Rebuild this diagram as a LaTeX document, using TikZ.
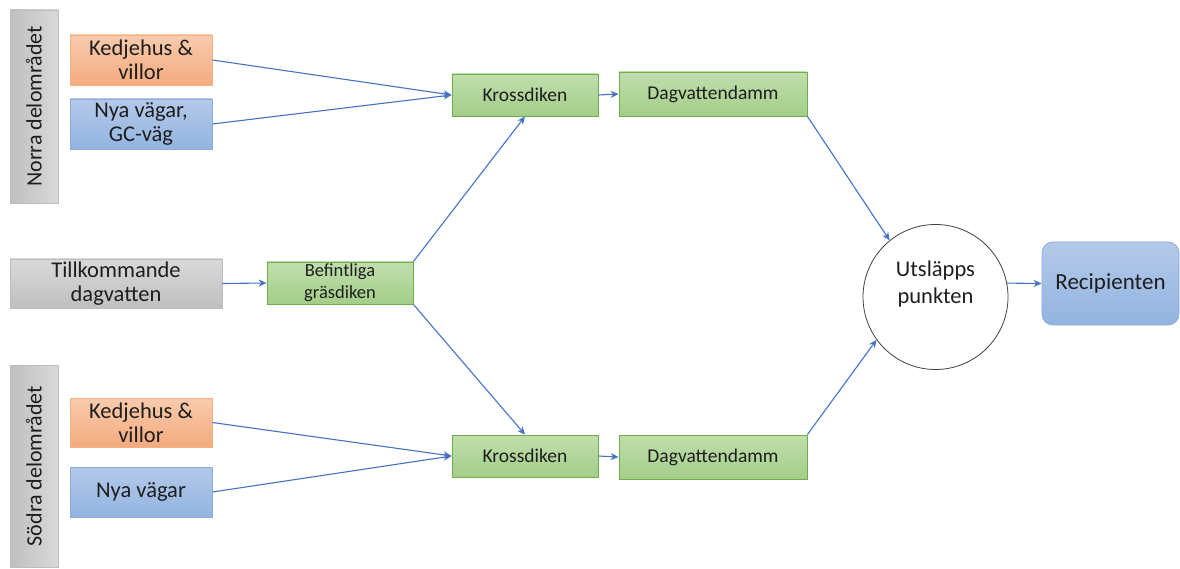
\documentclass[tikz,border=0pt]{standalone}
\usepackage{fontspec}
\setmainfont{Carlito}
\usetikzlibrary{arrows.meta}
\definecolor{arrowblue}{HTML}{4472C4}
\definecolor{txt}{HTML}{1E1E1E}
\definecolor{grayT}{HTML}{D9D9D9}
\definecolor{grayB}{HTML}{BFBFBF}
\definecolor{grayL}{HTML}{BDBDBD}
\definecolor{orangeT}{HTML}{F8CBAD}
\definecolor{orangeB}{HTML}{F4AB7E}
\definecolor{orangeL}{HTML}{F4B183}
\definecolor{blueT}{HTML}{B4C9E9}
\definecolor{blueB}{HTML}{92B4E0}
\definecolor{blueL}{HTML}{8FAADC}
\definecolor{greenT}{HTML}{C0DEAD}
\definecolor{greenB}{HTML}{A3CE88}
\definecolor{greenL}{HTML}{70AD47}
\tikzset{
  box/.style={draw, line width=0.8pt, text=txt, align=center, inner sep=2pt},
  graybox/.style={box, draw=grayL, top color=grayT, bottom color=grayB},
  orangebox/.style={box, draw=orangeL, top color=orangeT, bottom color=orangeB},
  bluebox/.style={box, draw=blueL, top color=blueT, bottom color=blueB},
  greenbox/.style={box, draw=greenL, top color=greenT, bottom color=greenB},
  flow/.style={-{Stealth[length=8pt,width=7pt]}, draw=arrowblue, line width=1.1pt}
}
\begin{document}
\begin{tikzpicture}[x=1pt,y=-1pt]
  \useasboundingbox (0,0) rectangle (1180,569);
  % areas
  \node[box, draw=grayL, left color=grayB, right color=grayT, rotate=90, minimum width=193, minimum height=48, font=\fontsize{22}{24}\selectfont] (norra) at (34,106.5) {Norra delområdet};
  \node[box, draw=grayL, left color=grayB, right color=grayT, rotate=90, minimum width=202, minimum height=48, font=\fontsize{22}{24}\selectfont] (sodra) at (34,466) {Södra delområdet};
  % sources
  \node[orangebox, minimum width=142, minimum height=50, font=\fontsize{22.5}{24}\selectfont] (kedjeN) at (141,60) {Kedjehus \&\\villor};
  \node[bluebox, minimum width=142, minimum height=50, font=\fontsize{22.5}{24}\selectfont] (nyaN) at (141,124) {Nya vägar,\\GC-väg};
  \node[graybox, minimum width=212, minimum height=49, font=\fontsize{22.5}{24}\selectfont] (till) at (116,283.5) {Tillkommande\\dagvatten};
  \node[orangebox, minimum width=142, minimum height=49, font=\fontsize{22.5}{24}\selectfont] (kedjeS) at (141,422.5) {Kedjehus \&\\villor};
  \node[bluebox, minimum width=142, minimum height=50, font=\fontsize{22.5}{24}\selectfont] (nyaS) at (141,492) {Nya vägar};
  % treatment
  \node[greenbox, minimum width=146, minimum height=42, font=\fontsize{18.5}{22}\selectfont] (bef) at (340,283) {Befintliga\\gräsdiken};
  \node[greenbox, minimum width=146, minimum height=42, font=\fontsize{19.5}{22}\selectfont] (krossN) at (525,95) {Krossdiken};
  \node[greenbox, minimum width=188, minimum height=44, font=\fontsize{19.5}{22}\selectfont] (dammN) at (713,94) {Dagvattendamm};
  \node[greenbox, minimum width=146, minimum height=42, font=\fontsize{19.5}{22}\selectfont] (krossS) at (525,456) {Krossdiken};
  \node[greenbox, minimum width=188, minimum height=44, font=\fontsize{19.5}{22}\selectfont] (dammS) at (713,457) {Dagvattendamm};
  % outlet
  \node[circle, draw=black!75, line width=0.8pt, minimum size=145,
    label={[yshift=13pt, text=txt, align=center, font=\fontsize{22.5}{27}\selectfont]center:Utsläpps\\punkten}] (utslapp) at (935.5,297) {};
  \node[box, draw=blueL, top color=blueT, bottom color=blueB, rounded corners=11pt, minimum width=137, minimum height=83, font=\fontsize{23}{26}\selectfont] (recip) at (1110.5,283.5) {Recipienten};
  \begin{scope}[flow]
    \draw (kedjeN.east) to (krossN.west);
    \draw (nyaN.east) to (krossN.west);
    \draw (till.east) to (bef.west);
    \draw (bef.north east) to (krossN.south);
    \draw (bef.south east) to (krossS.north);
    \draw (krossN.east) to (dammN.west);
    \draw (krossS.east) to (dammS.west);
    \draw (kedjeS.east) to (krossS.west);
    \draw (nyaS.east) to (krossS.west);
    \draw (dammN.south east) to (utslapp.129);
    \draw (dammS.north east) to (utslapp.216);
    \draw (utslapp.11) to (recip.west);
  \end{scope}
\end{tikzpicture}
\end{document}
